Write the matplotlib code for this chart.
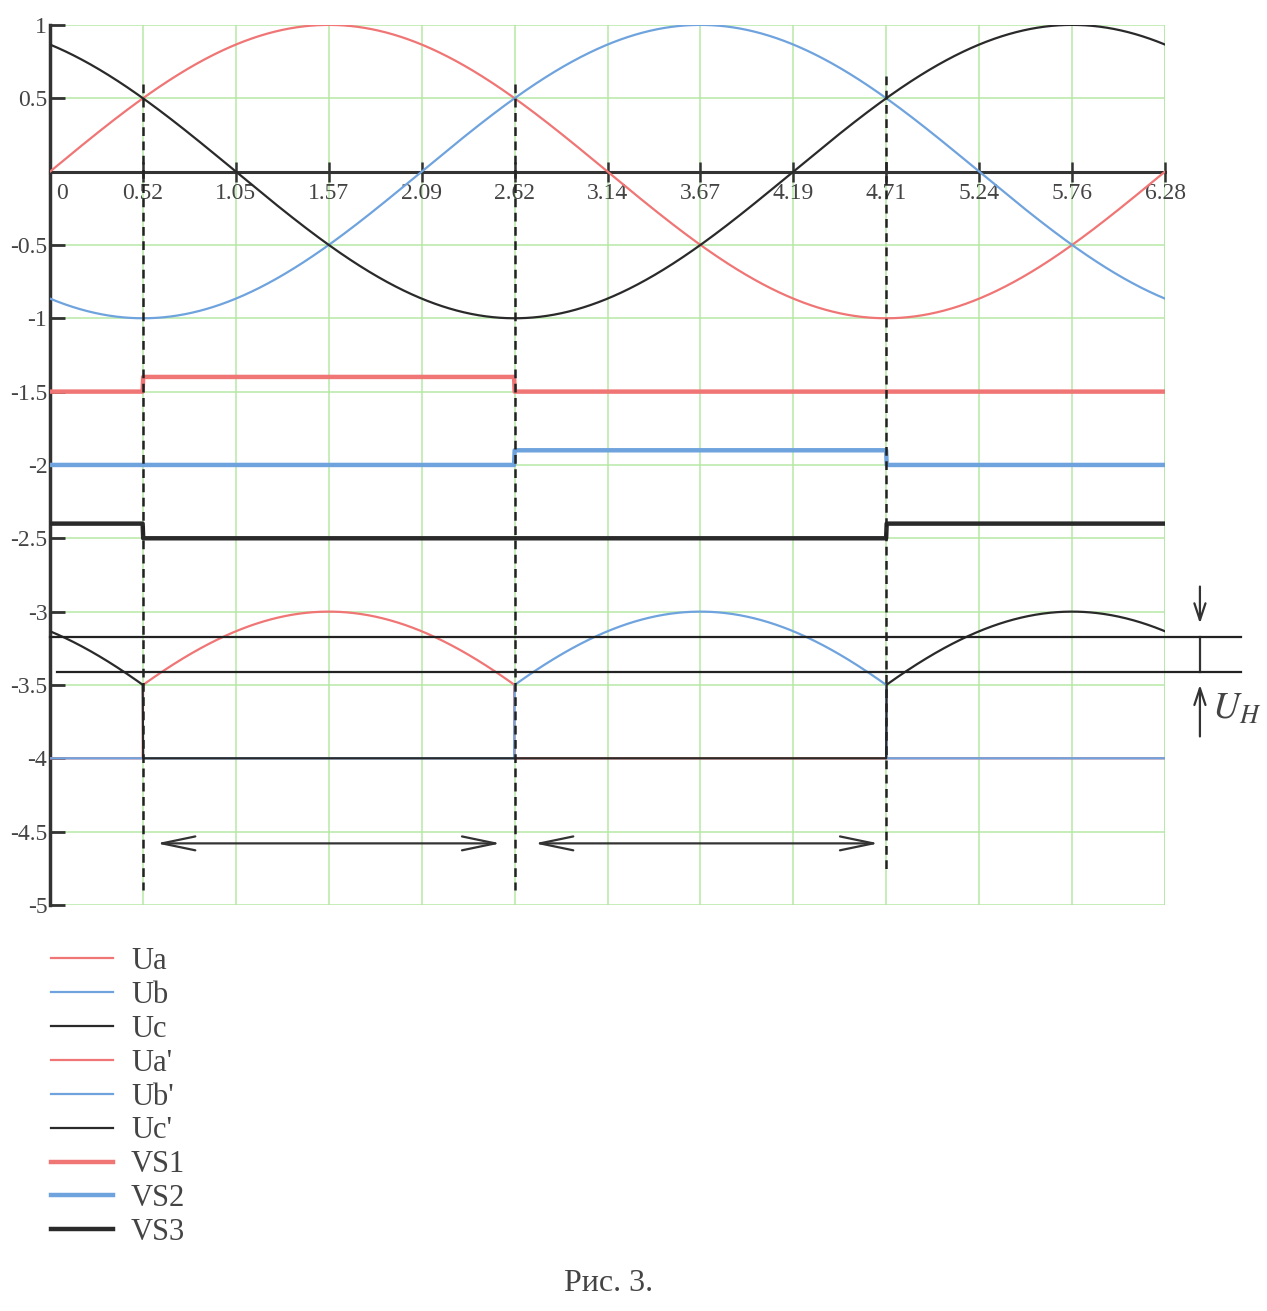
import numpy as np
import matplotlib.pyplot as plt
from matplotlib.transforms import ScaledTranslation

# phase voltages (unit amplitude, shifted by 120 deg)
phase_names = ["Ua", "Ub", "Uc"]
phase_shift = [0.0, -2 * np.pi / 3, 2 * np.pi / 3]
phase_colors = ["#f07575", "#6fa3de", "#2a2a2a"]

# conduction intervals of each thyristor (start, end), in rad
switch_points = [0.5236, 2.618, 4.712]
vs_intervals = [[(0.5236, 2.618)], [(2.618, 4.712)], [(0.0, 0.5236), (4.712, 6.2832)]]
vs_base = [-1.5, -2.0, -2.5]
vs_on = [-1.4, -1.9, -2.4]
out_offset = -4.0

x_ticks = [0, 0.5236, 1.0472, 1.5708, 2.0944, 2.618, 3.1416, 3.6652,
           4.1888, 4.7124, 5.236, 5.7596, 6.2832]
x_labels = ["0", "0.52", "1.05", "1.57", "2.09", "2.62", "3.14", "3.67",
            "4.19", "4.71", "5.24", "5.76", "6.28"]
y_ticks = [1, 0.5, -0.5, -1, -1.5, -2, -2.5, -3, -3.5, -4, -4.5, -5]
y_labels = ["1", "0.5", "-0.5", "-1", "-1.5", "-2", "-2.5", "-3", "-3.5",
            "-4", "-4.5", "-5"]

# ripple band limits and interval arrows
ripple_levels = [-3.17, -3.41]
arrow_spans = [(0.60, 2.54), (2.73, 4.67)]
arrow_level = -4.58

plt.rcParams["font.family"] = ["Liberation Serif", "DejaVu Serif"]
plt.rcParams["mathtext.fontset"] = "stix"

fig = plt.figure(figsize=(12.67, 13.11), dpi=100)
ax = fig.add_axes([0.0395, 0.3097, 0.88, 0.6713])

x = np.linspace(0, 2 * np.pi, 2000)


def on_mask(intervals):
    m = np.zeros_like(x, dtype=bool)
    for a, b in intervals:
        m |= (x >= a) & (x <= b)
    return m


handles = []
for name, sh, c in zip(phase_names, phase_shift, phase_colors):
    l, = ax.plot(x, np.sin(x + sh), color=c, lw=1.6, label=name, zorder=3)
    handles.append(l)

for name, sh, c, iv in zip(phase_names, phase_shift, phase_colors, vs_intervals):
    m = on_mask(iv)
    y = np.where(m, np.sin(x + sh) + out_offset, out_offset)
    l, = ax.plot(x, y, color=c, lw=1.6, label=name + "'", zorder=3)
    handles.append(l)

for i, (c, iv) in enumerate(zip(phase_colors, vs_intervals)):
    m = on_mask(iv)
    y = np.where(m, vs_on[i], vs_base[i])
    l, = ax.plot(x, y, color=c, lw=3.2, label="VS%d" % (i + 1), zorder=3)
    handles.append(l)

# dashed commutation markers
for xs, top, bot in zip(switch_points, [0.6, 0.6, 0.65], [-4.9, -4.9, -4.78]):
    ax.plot([xs, xs], [top, bot], color="#222", lw=1.8,
            dashes=(3.5, 2.2), zorder=4, clip_on=False)

for lev, x0 in zip(ripple_levels, [0.0, 0.04]):
    ax.plot([x0, 6.71], [lev, lev], color="#222", lw=1.6, clip_on=False, zorder=4)

xa = 6.48
ax.annotate("", xy=(xa, -3.10), xytext=(xa, -2.81), annotation_clip=False,
            arrowprops=dict(arrowstyle="->,head_length=1.2,head_width=0.4",
                            color="#333", lw=1.6))
ax.plot([xa, xa], [ripple_levels[0], ripple_levels[1]], color="#333", lw=1.6,
        clip_on=False)
ax.annotate("", xy=(xa, -3.48), xytext=(xa, -3.87), annotation_clip=False,
            arrowprops=dict(arrowstyle="->,head_length=1.2,head_width=0.4",
                            color="#333", lw=1.6))
ax.text(6.55, -3.67, r"$U_{H}$", fontsize=27, color="#444", va="center",
        ha="left", clip_on=False)

for a, b in arrow_spans:
    ax.annotate("", xy=(b, arrow_level), xytext=(a, arrow_level),
                arrowprops=dict(arrowstyle="<->,head_length=2.4,head_width=0.5",
                                color="#333", lw=1.6, shrinkA=0, shrinkB=0))

ax.set_xlim(0, 6.2832)
ax.set_ylim(-5, 1)
ax.set_xticks(x_ticks)
ax.set_xticklabels(x_labels)
ax.set_yticks(y_ticks)
ax.set_yticklabels(y_labels)
ax.grid(True, color="#b5e8a5", lw=1.1, zorder=0)
ax.axvline(6.2832, color="#b5e8a5", lw=1.1, zorder=0)

ax.spines["top"].set_visible(False)
ax.spines["right"].set_visible(False)
ax.spines["bottom"].set_position(("data", 0))
ax.spines["bottom"].set_linewidth(2.2)
ax.spines["bottom"].set_color("#333")
ax.spines["bottom"].set_zorder(2.5)
ax.spines["left"].set_linewidth(2.5)
ax.spines["left"].set_color("#333")
ax.tick_params(axis="x", direction="inout", length=14, width=1.8, colors="#333",
               labelsize=17, pad=1)
ax.tick_params(axis="y", direction="in", length=11, width=2, colors="#333",
               labelsize=17, pad=2)
for t in ax.get_xticklabels():
    t.set_color("#444")
for t in ax.get_yticklabels():
    t.set_color("#444")
# "0" label sits right of the vertical axis
lab0 = ax.get_xticklabels()[0]
lab0.set_transform(lab0.get_transform() + ScaledTranslation(0.12, 0, fig.dpi_scale_trans))

fig.legend(handles=handles, loc="upper left", bbox_to_anchor=(0.031, 0.287),
           frameon=False, fontsize=22, handlelength=2.0, handletextpad=0.6,
           labelspacing=0.16, borderaxespad=0, labelcolor="#444")

fig.text(0.48, 0.021, "Рис. 3.", fontsize=23, color="#444", ha="center",
         va="center")

fig.savefig("out.png", dpi=100, facecolor="white")
